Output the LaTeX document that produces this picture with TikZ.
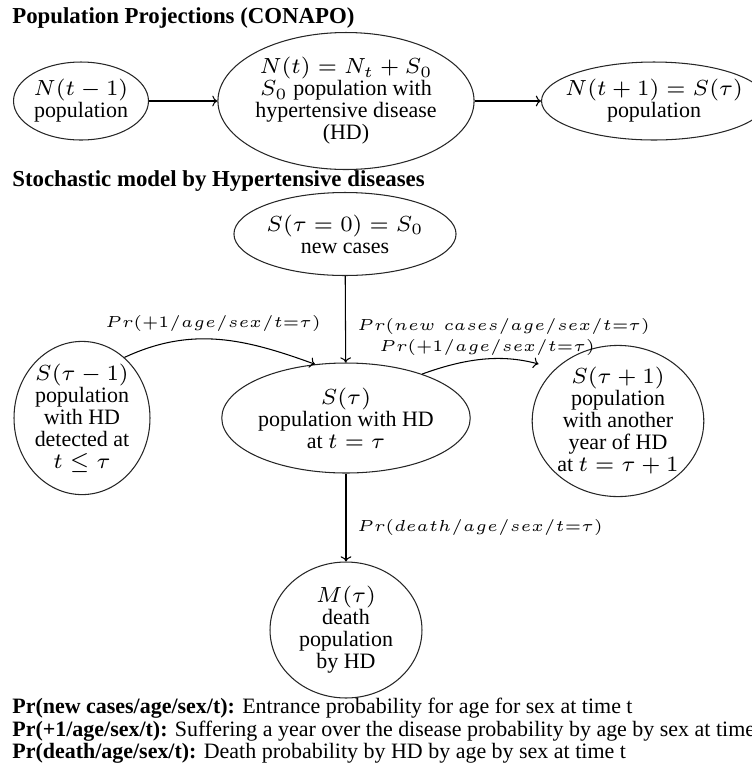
\documentclass[tikz,border=0pt]{standalone}
\usepackage[no-math]{fontspec}
\setmainfont{Liberation Serif}
\usepackage{graphicx}
\usetikzlibrary{shapes.geometric, arrows.meta, positioning}

\newcommand{\mth}[1]{\scalebox{1.78}{\fontsize{7}{8}\selectfont$#1$}}
\newcommand{\prlab}[1]{\scalebox{1.82}{$\scriptscriptstyle #1$}}

\begin{document}
\begin{tikzpicture}[
  x=0.02cm, y=0.02cm,
  state/.style={ellipse, draw=black!85, line width=0.6pt, inner sep=0pt, align=center, font=\fontsize{12.5}{12.5}\selectfont},
  heading/.style={anchor=west, inner sep=0pt, font=\fontsize{13}{13}\selectfont\bfseries},
  prob/.style={inner sep=0pt},
  legend/.style={anchor=west, inner sep=0pt, font=\fontsize{12.5}{12.5}\selectfont},
  arrow/.style={->, line width=0.6pt},
]
\useasboundingbox (0,0) rectangle (752,-769);

% Population projections
\node[heading] (head1) at (12,-18) {Population Projections (CONAPO)};
\node[state, minimum width=2.7cm, minimum height=1.56cm] (nprev) at (81,-101) {\mth{N(t-1)}\\population};
\node[state, minimum width=4.88cm, minimum height=2.74cm] (nnow) at (346,-101) {\mth{N(t)=N_t+S_0}\\\mth{S_0} population with\\hypertensive disease\\(HD)};
\node[state, inner xsep=-6.5pt, minimum width=4.5cm, minimum height=1.56cm] (nnext) at (654,-101) {\mth{N(t+1)=S(\tau)}\\population};

\draw[arrow] (nprev) -- (nnow);
\draw[arrow] (nnow) -- (nnext);

% Stochastic model
\node[heading] (head2) at (12,-181) {Stochastic model by Hypertensive diseases};
\node[state, minimum width=4.32cm, minimum height=1.66cm] (snew) at (345,-234) {\mth{S(\tau=0)=S_0}\\new cases};
\node[state, minimum width=2.72cm, minimum height=2.8cm] (sprev) at (82,-418) {\mth{S(\tau-1)}\\population\\with HD\\detected at\\\mth{t\leq\tau}};
\node[state, minimum width=4.86cm, minimum height=2.2cm] (snow) at (346,-418) {\mth{S(\tau)}\\population with HD\\at \mth{t=\tau}};
\node[state, minimum width=3.0cm, minimum height=2.84cm] (snext) at (618,-421) {\mth{S(\tau+1)}\\population\\with another\\year of HD\\at \mth{t=\tau+1}};
\node[state, minimum width=3.04cm, minimum height=2.72cm] (death) at (346,-630) {\mth{M(\tau)}\\death\\population\\by HD};

\draw[arrow] (snew) -- (snow);
\draw[arrow] (sprev.55) to[out=25, in=160] (snow.120);
\draw[arrow, shorten >=10pt] (snow.30) to[out=20, in=165] (snext.140);
\draw[arrow] (snow) -- (death);

% Probabilities
\node[prob] (pleft) at (213,-323) {\prlab{Pr(+1/age/sex/t=\tau)}};
\node[prob, anchor=west] (pnew) at (357,-326) {\prlab{Pr(new\ cases/age/sex/t=\tau)}};
\node[prob, anchor=west] (pright) at (379,-347) {\prlab{Pr(+1/age/sex/t=\tau)}};
\node[prob, anchor=west] (pdeath) at (357,-527) {\prlab{Pr(death/age/sex/t=\tau)}};

% Legend
\node[legend] (leg1) at (12,-708) {\textbf{Pr(new cases/age/sex/t):} Entrance probability for age for sex at time t};
\node[legend] (leg2) at (12,-731) {\textbf{Pr(+1/age/sex/t):} Suffering a year over the disease probability by age by sex at time t};
\node[legend] (leg3) at (12,-753) {\textbf{Pr(death/age/sex/t):} Death probability by HD by age by sex at time t};

\end{tikzpicture}
\end{document}
